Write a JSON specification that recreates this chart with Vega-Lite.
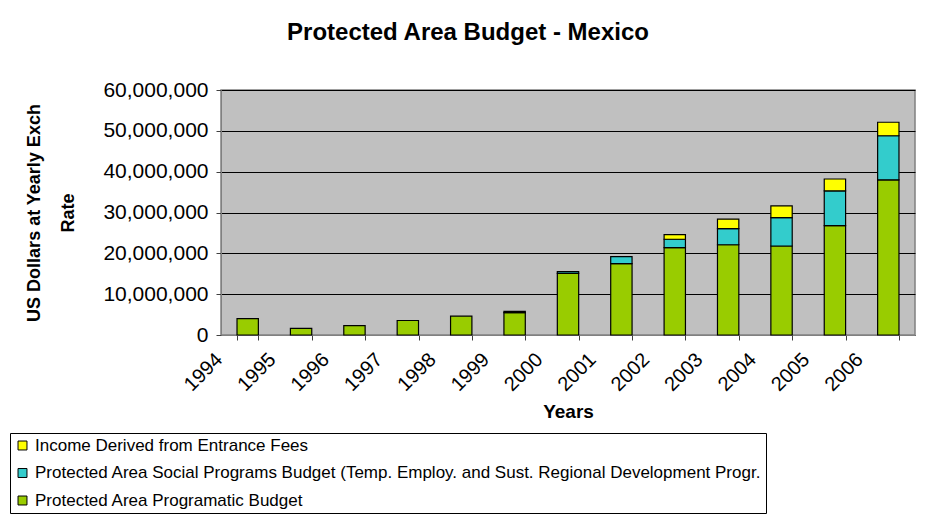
{
  "$schema": "https://vega.github.io/schema/vega-lite/v6.json",
  "width": 694,
  "height": 245,
  "autosize": {"type": "none"},
  "padding": {"left": 221, "top": 90, "right": 13, "bottom": 194},
  "background": "white",
  "title": {
    "text": "Protected Area Budget - Mexico",
    "fontSize": 24,
    "fontWeight": "bold",
    "font": "Liberation Sans",
    "color": "black",
    "anchor": "middle",
    "frame": "group",
    "dx": -100,
    "offset": 34
  },
  "data": {
    "values": [
      {"year": "1994", "series": "Protected Area Programatic Budget", "value": 4000000},
      {"year": "1995", "series": "Protected Area Programatic Budget", "value": 1600000},
      {"year": "1996", "series": "Protected Area Programatic Budget", "value": 2300000},
      {"year": "1997", "series": "Protected Area Programatic Budget", "value": 3550000},
      {"year": "1998", "series": "Protected Area Programatic Budget", "value": 4600000},
      {"year": "1999", "series": "Protected Area Programatic Budget", "value": 5500000},
      {"year": "2000", "series": "Protected Area Programatic Budget", "value": 15100000},
      {"year": "2001", "series": "Protected Area Programatic Budget", "value": 17500000},
      {"year": "2002", "series": "Protected Area Programatic Budget", "value": 21400000},
      {"year": "2003", "series": "Protected Area Programatic Budget", "value": 22100000},
      {"year": "2004", "series": "Protected Area Programatic Budget", "value": 21800000},
      {"year": "2005", "series": "Protected Area Programatic Budget", "value": 26800000},
      {"year": "2006", "series": "Protected Area Programatic Budget", "value": 38000000},
      {"year": "1999", "series": "Protected Area Social Programs Budget (Temp. Employ. and Sust. Regional Development Progr.", "value": 300000},
      {"year": "2000", "series": "Protected Area Social Programs Budget (Temp. Employ. and Sust. Regional Development Progr.", "value": 400000},
      {"year": "2001", "series": "Protected Area Social Programs Budget (Temp. Employ. and Sust. Regional Development Progr.", "value": 1700000},
      {"year": "2002", "series": "Protected Area Social Programs Budget (Temp. Employ. and Sust. Regional Development Progr.", "value": 2050000},
      {"year": "2003", "series": "Protected Area Social Programs Budget (Temp. Employ. and Sust. Regional Development Progr.", "value": 3950000},
      {"year": "2004", "series": "Protected Area Social Programs Budget (Temp. Employ. and Sust. Regional Development Progr.", "value": 6950000},
      {"year": "2005", "series": "Protected Area Social Programs Budget (Temp. Employ. and Sust. Regional Development Progr.", "value": 8500000},
      {"year": "2006", "series": "Protected Area Social Programs Budget (Temp. Employ. and Sust. Regional Development Progr.", "value": 10800000},
      {"year": "2002", "series": "Income Derived from Entrance Fees", "value": 1150000},
      {"year": "2003", "series": "Income Derived from Entrance Fees", "value": 2350000},
      {"year": "2004", "series": "Income Derived from Entrance Fees", "value": 2850000},
      {"year": "2005", "series": "Income Derived from Entrance Fees", "value": 2900000},
      {"year": "2006", "series": "Income Derived from Entrance Fees", "value": 3300000}
    ]
  },
  "mark": {"type": "bar", "stroke": "black", "strokeWidth": 1.2},
  "encoding": {
    "x": {
      "field": "year",
      "type": "nominal",
      "scale": {"paddingInner": 0.6, "paddingOuter": 0.3},
      "axis": {
        "title": "Years",
        "titleFontSize": 19,
        "titleFontWeight": "bold",
        "titleColor": "black",
        "titlePadding": 8,
        "labelAngle": -45,
        "labelFontSize": 20,
        "labelColor": "black",
        "labelOffset": -36,
        "labelPadding": 9,
        "tickBand": "extent",
        "tickColor": "#404040",
        "tickSize": 5,
        "domainColor": "#808080",
        "grid": false
      }
    },
    "y": {
      "field": "value",
      "type": "quantitative",
      "stack": "zero",
      "scale": {"domain": [0, 60000000], "nice": false},
      "axis": {
        "title": ["US Dollars at Yearly Exch", "Rate"],
        "titleFontSize": 18,
        "titleFontWeight": "bold",
        "titleColor": "black",
        "titleLineHeight": 34,
        "titlePadding": 25,
        "values": [0, 10000000, 20000000, 30000000, 40000000, 50000000, 60000000],
        "format": ",d",
        "labelFontSize": 21,
        "labelColor": "black",
        "labelPadding": 8,
        "tickColor": "#404040",
        "tickSize": 5,
        "domainColor": "#808080",
        "grid": true,
        "gridColor": "black",
        "gridWidth": 1
      }
    },
    "order": {"field": "value", "type": "quantitative", "sort": "descending"},
    "color": {
      "field": "series",
      "type": "nominal",
      "scale": {
        "domain": [
          "Income Derived from Entrance Fees",
          "Protected Area Social Programs Budget (Temp. Employ. and Sust. Regional Development Progr.",
          "Protected Area Programatic Budget"
        ],
        "range": ["#FFFF00", "#33CCCC", "#99CC00"]
      },
      "legend": {
        "title": null,
        "orient": "none",
        "legendX": -211,
        "legendY": 343,
        "direction": "vertical",
        "strokeColor": "black",
        "padding": 4,
        "rowPadding": 9.5,
        "labelFontSize": 17,
        "labelOffset": 4,
        "labelColor": "black",
        "labelLimit": 900,
        "symbolType": "square",
        "symbolSize": 80,
        "symbolStrokeColor": "black",
        "symbolStrokeWidth": 1,
        "symbolOpacity": 1
      }
    }
  },
  "config": {
    "font": "Liberation Sans",
    "view": {"fill": "#C0C0C0", "stroke": "#808080", "strokeWidth": 1.5}
  }
}
